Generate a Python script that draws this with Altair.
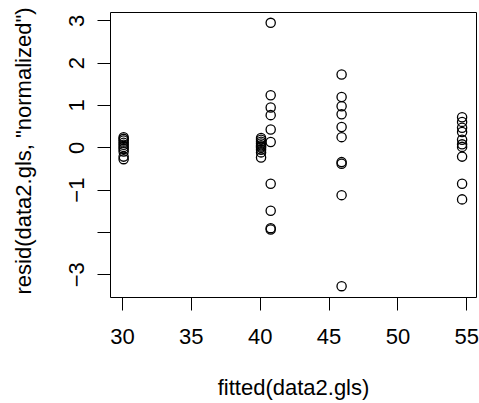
import altair as alt
import pandas as pd

# fitted values (group positions) and normalized residuals
fit_30 = 30.12
res_30 = [0.24, 0.20, 0.16, 0.11, 0.06, 0.01, -0.04, -0.10, -0.22, -0.28]
fit_40 = 40.1
res_40 = [0.22, 0.18, 0.13, 0.09, 0.05, 0.02, -0.01, -0.06, -0.12, -0.24]
fit_41 = 40.8
res_41 = [2.94, 1.23, 0.94, 0.76, 0.42, 0.125, -0.86, -1.50, -1.91, -1.94]
fit_46 = 45.95
res_46 = [1.72, 1.19, 0.97, 0.78, 0.48, 0.24, -0.35, -0.39, -1.13, -3.28]
fit_55 = 54.7
res_55 = [0.71, 0.60, 0.46, 0.36, 0.18, 0.07, 0.01, -0.22, -0.86, -1.23]

x_ticks = [30, 35, 40, 45, 50, 55]
y_ticks = [-3, -2, -1, 0, 1, 2, 3]

rows = []
for f, rs in [(fit_30, res_30), (fit_40, res_40), (fit_41, res_41),
              (fit_46, res_46), (fit_55, res_55)]:
    for r in rs:
        rows.append({"fitted": f, "resid": r})
df = pd.DataFrame(rows)

FONT = "Liberation Sans"
W, H = 366, 285

chart = alt.Chart(df).mark_point(
    shape="circle", filled=False, stroke="black", strokeWidth=1.3, size=85, opacity=1
).encode(
    x=alt.X("fitted:Q",
            scale=alt.Scale(domain=[29.13, 55.71], nice=False, zero=False),
            axis=alt.Axis(values=x_ticks, title="fitted(data2.gls)", grid=False,
                          domain=False, tickSize=13, tickColor="black", tickWidth=1,
                          labelPadding=16, labelFontSize=22, labelFont=FONT,
                          labelColor="black", labelFlush=False,
                          titleFontSize=22, titleFont=FONT, titleFontWeight="normal",
                          titleColor="black", titleX=W / 2, titleY=80,
                          titleAlign="center", titleBaseline="top")),
    y=alt.Y("resid:Q",
            scale=alt.Scale(domain=[-3.536, 3.196], nice=False, zero=False),
            axis=alt.Axis(values=y_ticks, title='resid(data2.gls, "normalized")',
                          grid=False, domain=False, tickSize=13, tickColor="black",
                          tickWidth=1, labelAngle=-90, labelAlign="center",
                          labelBaseline="alphabetic", labelPadding=14,
                          labelFontSize=22, labelFont=FONT, labelColor="black",
                          labelFlush=False, labelOverlap=False,
                          labelExpr="datum.value == -2 ? '' : (datum.value < 0 ? '\u2212' + abs(datum.value) : '' + datum.value)",
                          titleFontSize=22, titleFont=FONT, titleFontWeight="normal",
                          titleColor="black", titleAngle=-90, titleX=-80,
                          titleY=H / 2 - 4, titleAlign="center",
                          titleBaseline="alphabetic")),
).properties(
    width=W, height=H,
    autosize=alt.AutoSizeParams(type="none"),
    padding={"left": 110, "top": 12, "right": 3, "bottom": 106},
    background="white",
).configure_view(stroke="black", strokeWidth=1)

chart.save("out.html", embed_options={"renderer": "svg", "actions": False})
